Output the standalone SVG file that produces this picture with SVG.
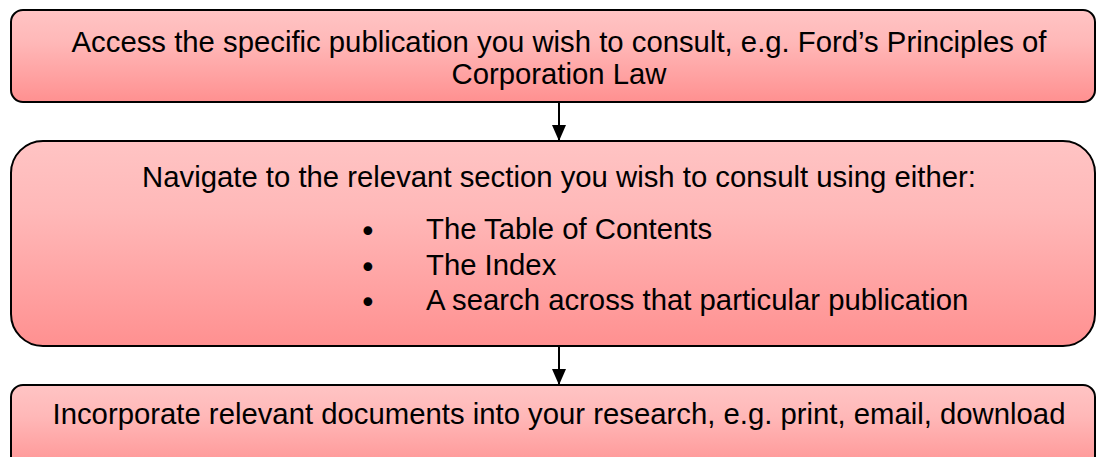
<svg xmlns="http://www.w3.org/2000/svg" width="1096" height="457" viewBox="0 0 1096 457">
  <defs>
    <linearGradient id="boxFill" x1="0" y1="0" x2="0" y2="1">
      <stop offset="0" stop-color="#ffc4c4"/>
      <stop offset="0.35" stop-color="#ffb8b8"/>
      <stop offset="1" stop-color="#ff9090"/>
    </linearGradient>
    <marker id="arrow" markerWidth="16" markerHeight="14" refX="16" refY="7" orient="auto" markerUnits="userSpaceOnUse" viewBox="0 0 16 14">
      <path d="M0,0 L16,7 L0,14 Z" fill="#000"/>
    </marker>
  </defs>
  <style>
    .box { fill: url(#boxFill); stroke: #000; stroke-width: 2; }
    .txt { font-family: "Liberation Sans", Arial, sans-serif; font-size: 29.3px; fill: #000; }
    .bullet { font-family: "DejaVu Sans", sans-serif; font-size: 30px; fill: #000; }
    .mid { text-anchor: middle; }
    .conn { stroke: #000; stroke-width: 2; fill: none; }
  </style>

  <g id="step-access">
    <rect class="box" x="11" y="10" width="1084" height="92" rx="12" ry="12"/>
    <text class="txt mid" x="559" y="52">Access the specific publication you wish to consult, e.g. Ford’s Principles of</text>
    <text class="txt mid" x="559" y="84">Corporation Law</text>
  </g>

  <g id="step-navigate">
    <rect class="box" x="11" y="141" width="1084" height="205" rx="32" ry="32"/>
    <text class="txt mid" x="559" y="187">Navigate to the relevant section you wish to consult using either:</text>
    <text class="bullet" x="359" y="242">•</text>
    <text class="txt" x="426" y="239">The Table of Contents</text>
    <text class="bullet" x="359" y="278">•</text>
    <text class="txt" x="426" y="275">The Index</text>
    <text class="bullet" x="359" y="313">•</text>
    <text class="txt" x="426" y="310">A search across that particular publication</text>
  </g>

  <g id="step-incorporate">
    <rect class="box" x="11" y="385" width="1084" height="90" rx="12" ry="12"/>
    <text class="txt mid" x="559" y="424">Incorporate relevant documents into your research, e.g. print, email, download</text>
  </g>

  <g id="connectors">
    <line class="conn" x1="559" y1="102" x2="559" y2="141" marker-end="url(#arrow)"/>
    <line class="conn" x1="559" y1="346" x2="559" y2="385" marker-end="url(#arrow)"/>
  </g>
</svg>
